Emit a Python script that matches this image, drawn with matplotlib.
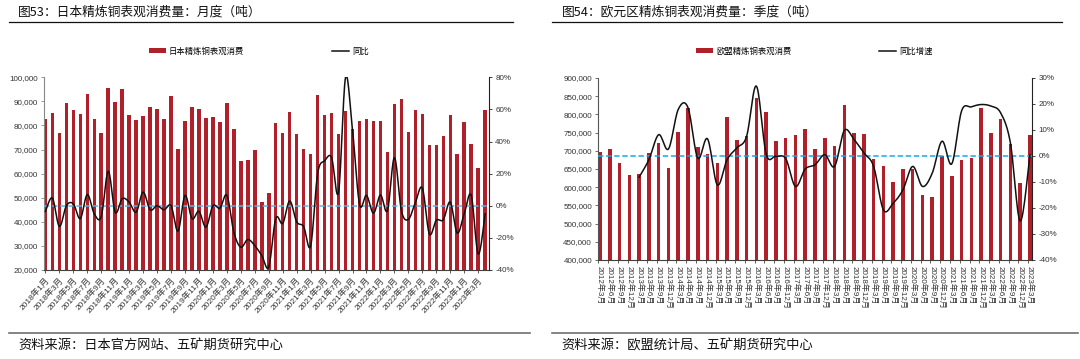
import numpy as np
import matplotlib
matplotlib.use("Agg")
import matplotlib.pyplot as plt
from matplotlib.lines import Line2D
from matplotlib.ticker import FuncFormatter, FixedLocator

plt.rcParams['font.family'] = ['Liberation Sans', 'Noto Sans CJK SC', 'DejaVu Sans']
CJK = ['Noto Sans CJK SC', 'DejaVu Sans']

# ---------------- data: Japan monthly (2018-01 .. 2023-04) ----------------
jp_months = [f'{y}年{m}月' for y in range(2018, 2024) for m in range(1, 13)][:64]
jp_consumption = [82500, 85000, 77000, 89500, 86300, 84600, 92900, 82700, 76900, 95400,
                  89800, 95000, 84200, 82300, 83900, 87700, 86800, 82700, 92400, 70200,
                  81900, 87800, 86800, 83000, 83700, 81300, 89500, 78700, 65400, 65500,
                  69700, 48300, 52100, 80900, 77000, 85700, 76500, 70200, 68000, 92700,
                  84200, 85300, 76500, 86200, 78400, 81900, 82600, 81900, 81900, 68800,
                  88900, 91100, 77400, 86300, 84600, 71800, 71800, 75500, 84400, 68000,
                  81500, 72500, 62500, 86300]
jp_yoy = [-3.5, 4.8, -12.9, 0.0, 1.2, -8.0, 7.0, -5.0, -6.7, 21.5,
          -4.0, 4.4, 2.3, -4.0, 8.5, -2.5, 0.0, -2.5, 0.0, -15.8,
          6.5, -8.0, -3.5, -13.3, 0.0, -1.5, 6.5, -16.5, -25.8, -21.0,
          -24.8, -31.0, -38.0, -8.0, -11.0, 3.0, -10.0, -13.0, -25.0, 20.0,
          28.0, 30.0, 8.5, 80.0, 47.0, 1.0, 6.5, -4.6, 6.7, -3.0,
          30.0, -3.0, -8.5, 2.0, 11.0, -17.5, -9.0, -8.7, 2.3, -17.0,
          -5.0, 6.5, -30.0, -5.0]
jp_left_ticks = [20000, 30000, 40000, 50000, 60000, 70000, 80000, 90000, 100000]
jp_right_ticks = [-40, -20, 0, 20, 40, 60, 80]

# ---------------- data: Euro area quarterly (2012Q1 .. 2023Q1) ----------------
eu_quarters = [f'{y}年{m}月' for y in range(2012, 2024) for m in (3, 6, 9, 12)][:45]
eu_consumption = [695700, 703900, 665400, 633400, 637000, 694800, 720400, 651700, 750600, 816600,
                  711200, 690200, 665400, 793700, 729600, 742000, 844100, 807500, 727700, 734100,
                  742400, 758900, 703900, 736000, 714000, 825800, 747900, 746100, 676400, 658100,
                  615000, 648900, 648900, 579300, 573800, 684700, 630600, 674600, 680100, 816600,
                  748800, 786400, 718600, 612300, 743300]
eu_yoy_start = 4
eu_yoy = [-8.1, -1.4, 8.2, 2.7, 17.9, 18.6, -0.8, 6.6, -11.1, -1.4,
          3.1, 7.6, 26.9, 0.8, -0.1, -1.0, -11.7, -5.0, -3.4, 0.5,
          -4.0, 9.8, 6.3, 1.2, -4.0, -20.7, -18.2, -13.0, -4.0, -11.7,
          -6.6, 5.7, -3.0, 17.3, 18.9, 19.8, 19.2, 16.6, 5.0, -25.0, 0.5]
eu_left_ticks = list(range(400000, 900001, 50000))
eu_right_ticks = [-40, -30, -20, -10, 0, 10, 20, 30]

BAR = '#B0202A'
W, H = 1080, 359


def smooth(x, y, k=16):
    """Excel-like smoothed line (Catmull-Rom style Bezier through points)."""
    x = np.asarray(x, float)
    y = np.asarray(y, float)
    P = np.column_stack([x, y])
    Pp = np.vstack([P[0], P, P[-1]])
    t = np.linspace(0, 1, k)[:, None]
    out = [P[:1]]
    for i in range(len(P) - 1):
        p0, p1 = Pp[i + 1], Pp[i + 2]
        c1 = p0 + (Pp[i + 2] - Pp[i]) / 6.0
        c2 = p1 - (Pp[i + 3] - Pp[i + 1]) / 6.0
        seg = ((1 - t) ** 3) * p0 + 3 * ((1 - t) ** 2) * t * c1 + 3 * (1 - t) * t ** 2 * c2 + t ** 3 * p1
        out.append(seg[1:])
    S = np.vstack(out)
    return S[:, 0], S[:, 1]


def fx(px):
    return px / W


def fy(py):
    return 1 - py / H


fig = plt.figure(figsize=(W / 100, H / 100), dpi=100)
fig.patch.set_facecolor('white')


def style_axes(ax, ax2, left_color):
    for s in ['top', 'right']:
        ax.spines[s].set_visible(False)
    for s in ['top', 'left', 'bottom']:
        ax2.spines[s].set_visible(False)
    ax.spines['left'].set_color(left_color)
    ax.spines['bottom'].set_color('#404040')
    ax2.spines['right'].set_color('#222222')
    for a in (ax, ax2):
        a.tick_params(axis='y', labelsize=5.8, colors='#333333', length=2.5, width=0.6, pad=2)
    ax.tick_params(axis='y', color=left_color)
    ax2.tick_params(axis='y', color='#222222')


# ---------------- left chart ----------------
axL = fig.add_axes([fx(44), fy(270), fx(489 - 44), (270 - 77.3) / H])
xL = np.arange(len(jp_consumption))
barsL = axL.bar(xL, jp_consumption, width=0.5, color=BAR, zorder=2)
axL.set_ylim(20000, 100000)
axL.set_yticks(jp_left_ticks)
axL.yaxis.set_major_formatter(FuncFormatter(lambda v, p: f'{int(v):,}'))
axL.set_xlim(-0.2, len(xL) - 0.45)
axL.set_xticks(xL[::2])
axL.set_xticklabels(jp_months[::2], rotation=48, ha='right', va='top',
                    rotation_mode='anchor', fontsize=6.0, color='#333333')
axL.tick_params(axis='x', length=2.5, width=0.6, color='#404040', pad=2)
axL2 = axL.twinx()
axL2.set_ylim(-40, 80)
axL2.set_yticks(jp_right_ticks)
axL2.yaxis.set_major_formatter(FuncFormatter(lambda v, p: f'{int(v)}%'))
axL2.axhline(0, color='#55B6E8', lw=1.1, ls=(0, (3.5, 1.8)), zorder=3)
sx, sy = smooth(xL, jp_yoy)
lineL, = axL2.plot(sx, sy, color='#111111', lw=1.1, zorder=4)
style_axes(axL, axL2, '#888888')

fig.legend([barsL, lineL], ['日本精炼铜表观消费', '同比'], loc='center left',
           bbox_to_anchor=(fx(149), fy(51)), ncol=2, frameon=False,
           prop={'family': CJK, 'size': 6}, handlelength=2.0, handleheight=0.4,
           handletextpad=0.4, columnspacing=10.5, borderpad=0, borderaxespad=0)

# ---------------- right chart ----------------
axR = fig.add_axes([fx(598.3), fy(260), fx(1032.3 - 598.3), (260 - 78) / H])
xR = np.arange(len(eu_consumption))
barsR = axR.bar(xR, eu_consumption, width=0.36, color=BAR, zorder=2)
axR.set_ylim(400000, 900000)
axR.set_yticks(eu_left_ticks)
axR.yaxis.set_major_formatter(FuncFormatter(lambda v, p: f'{int(v):,}'))
axR.set_xlim(-0.18, len(xR) - 0.76)
axR.set_xticks(xR)
axR.set_xticklabels(eu_quarters, rotation=270, ha='center', va='top',
                    fontsize=5.8, color='#333333')
axR.tick_params(axis='x', length=0, pad=4)
axR.xaxis.set_minor_locator(FixedLocator(np.arange(len(xR) + 1) - 0.18))
axR.tick_params(axis='x', which='minor', length=2.5, width=0.6, color='#404040')
axR2 = axR.twinx()
axR2.set_ylim(-40, 30)
axR2.set_yticks(eu_right_ticks)
axR2.yaxis.set_major_formatter(FuncFormatter(lambda v, p: f'{int(v)}%'))
axR2.axhline(0, color='#12AAEC', lw=1.1, ls=(0, (3.5, 1.8)), zorder=3)
sx, sy = smooth(xR[eu_yoy_start:], eu_yoy)
lineR, = axR2.plot(sx, sy, color='#111111', lw=1.1, zorder=4)
style_axes(axR, axR2, '#555555')

fig.legend([barsR, lineR], ['欧盟精炼铜表观消费', '同比增速'], loc='center left',
           bbox_to_anchor=(fx(696), fy(51)), ncol=2, frameon=False,
           prop={'family': CJK, 'size': 6}, handlelength=2.0, handleheight=0.4,
           handletextpad=0.4, columnspacing=10.5, borderpad=0, borderaxespad=0)

# ---------------- titles, rules, sources ----------------
fig.text(fx(18), fy(12.5), '图53：日本精炼铜表观消费量：月度（吨）', family=CJK,
         fontsize=9.2, va='center', ha='left', color='#111111')
fig.text(fx(561.5), fy(12.5), '图54：欧元区精炼铜表观消费量：季度（吨）', family=CJK,
         fontsize=9.2, va='center', ha='left', color='#111111')
fig.add_artist(Line2D([fx(9), fx(513)], [fy(22.3)] * 2, color='#111111', lw=0.9))
fig.add_artist(Line2D([fx(552), fx(1062)], [fy(22.3)] * 2, color='#111111', lw=0.9))
fig.add_artist(Line2D([fx(9), fx(530)], [fy(332.7)] * 2, color='#707070', lw=1.2))
fig.add_artist(Line2D([fx(552), fx(1078)], [fy(332.7)] * 2, color='#707070', lw=1.2))
fig.text(fx(18), fy(345.5), '资料来源：日本官方网站、五矿期货研究中心', family=CJK,
         fontsize=9.5, va='center', ha='left', color='#111111')
fig.text(fx(561.5), fy(345.5), '资料来源：欧盟统计局、五矿期货研究中心', family=CJK,
         fontsize=9.5, va='center', ha='left', color='#111111')

fig.savefig('out.png', dpi=100, facecolor='white')
